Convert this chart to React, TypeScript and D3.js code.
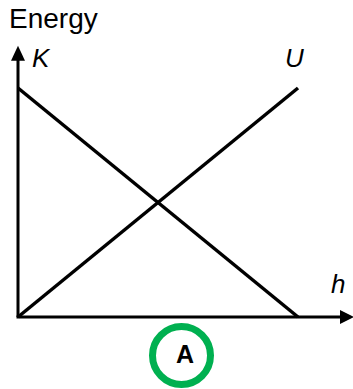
import { useEffect, useRef } from 'react';
import * as d3 from 'd3';

// normalised height h and energy values at the two ends of each line
const H_VALUES = [0, 1];
const KINETIC = [1, 0];
const POTENTIAL = [0, 1];
// how far the axes run past the data (arrow tips)
const H_AXIS_MAX = 1.2;
const E_AXIS_MAX = 1.185;

const SERIES_LABELS = ['K', 'U'];
const X_LABEL = 'h';
const Y_LABEL = 'Energy';
const BADGE = 'A';

export default function App() {
  const svgRef = useRef<SVGSVGElement | null>(null);

  useEffect(() => {
    if (!svgRef.current) return;
    const svg = d3.select(svgRef.current);
    svg.selectAll('*').remove();

    const x = d3.scaleLinear().domain([0, 1]).range([18, 298]);
    const y = d3.scaleLinear().domain([0, 1]).range([317, 88]);
    const font = '"Liberation Sans", Arial, sans-serif';

    // Axes
    svg.append('line')
      .attr('x1', x(0)).attr('y1', y(0))
      .attr('x2', x(0)).attr('y2', y(E_AXIS_MAX) + 12)
      .attr('stroke', '#000').attr('stroke-width', 3);
    svg.append('line')
      .attr('x1', x(0) - 1.5).attr('y1', y(0))
      .attr('x2', x(H_AXIS_MAX) - 12).attr('y2', y(0))
      .attr('stroke', '#000').attr('stroke-width', 3);

    // Arrow heads
    const yt = y(E_AXIS_MAX);
    svg.append('path')
      .attr('d', `M${x(0)},${yt} L${x(0) + 7},${yt + 15} L${x(0) - 7},${yt + 15} Z`)
      .attr('fill', '#000');
    const xt = x(H_AXIS_MAX);
    svg.append('path')
      .attr('d', `M${xt},${y(0)} L${xt - 14},${y(0) - 7} L${xt - 14},${y(0) + 7} Z`)
      .attr('fill', '#000');

    // Lines K and U
    const line = d3.line<number>()
      .x((_, i) => x(H_VALUES[i]))
      .y((d) => y(d));
    [KINETIC, POTENTIAL].forEach((s) => {
      svg.append('path')
        .attr('d', line(s))
        .attr('fill', 'none')
        .attr('stroke', '#000')
        .attr('stroke-width', 3.5);
    });

    // Labels
    svg.append('text')
      .attr('x', 9).attr('y', 28)
      .attr('font-family', font).attr('font-size', 28)
      .text(Y_LABEL);
    svg.append('text')
      .attr('x', 32).attr('y', 67)
      .attr('font-family', font).attr('font-size', 26).attr('font-style', 'italic')
      .text(SERIES_LABELS[0]);
    svg.append('text')
      .attr('x', 285).attr('y', 67)
      .attr('font-family', font).attr('font-size', 26).attr('font-style', 'italic')
      .text(SERIES_LABELS[1]);
    svg.append('text')
      .attr('x', 331).attr('y', 293)
      .attr('font-family', font).attr('font-size', 26).attr('font-style', 'italic')
      .text(X_LABEL);

    // Green badge
    svg.append('circle')
      .attr('cx', 181.5).attr('cy', 355.5).attr('r', 29)
      .attr('fill', 'none').attr('stroke', '#00b050').attr('stroke-width', 7);
    svg.append('text')
      .attr('x', 185).attr('y', 363)
      .attr('text-anchor', 'middle')
      .attr('font-family', font).attr('font-size', 25).attr('font-weight', 'bold')
      .text(BADGE);
  }, []);

  return (
    <svg
      ref={svgRef}
      width={353}
      height={389}
      style={{ position: 'absolute', left: 0, top: 0, background: '#fff' }}
    />
  );
}
